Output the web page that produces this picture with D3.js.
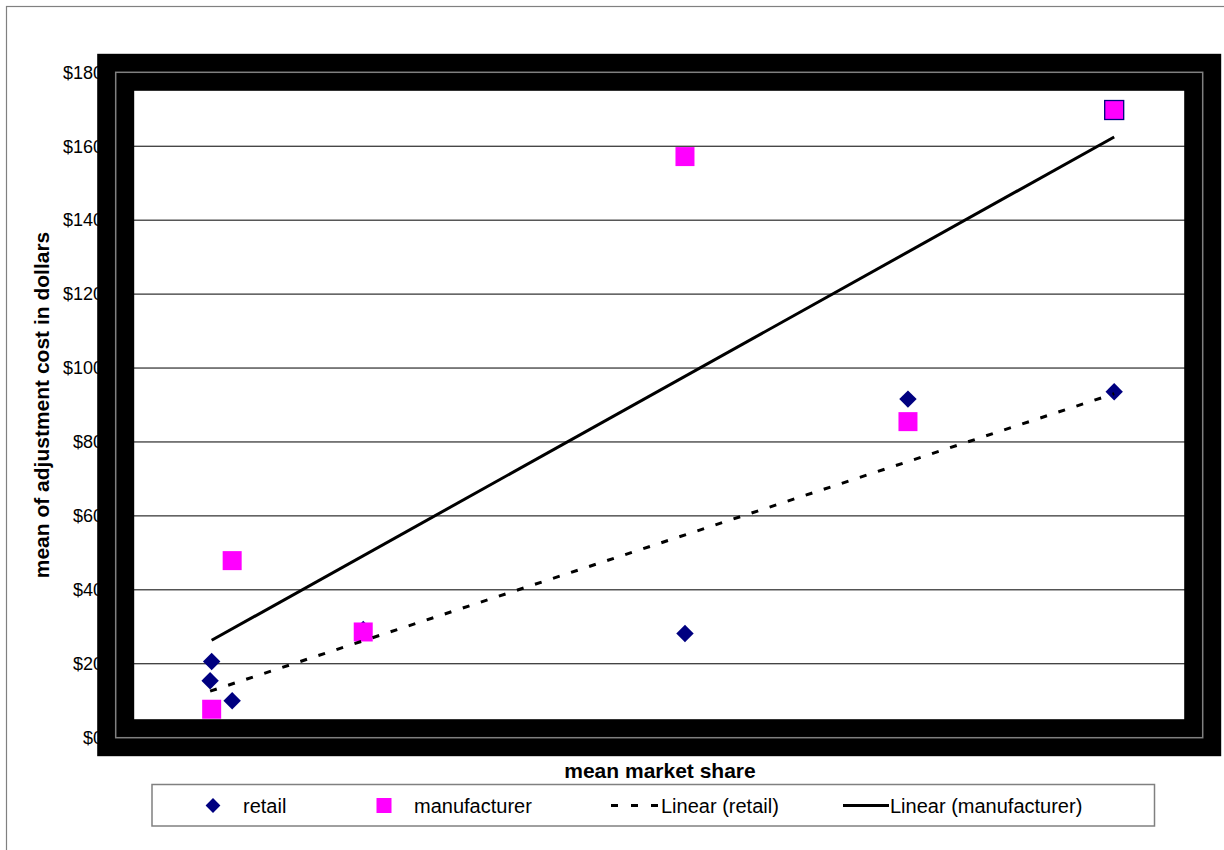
<!DOCTYPE html>
<html>
<head>
<meta charset="utf-8">
<script src="https://cdn.jsdelivr.net/npm/d3@7"></script>
<style>
  html, body { margin: 0; padding: 0; background: #fff; }
  svg { display: block; }
  text { font-family: Arial, "Liberation Sans", sans-serif; }
</style>
</head>
<body>
<svg id="chart" width="1224" height="850"></svg>
<script>
// ---- data ----
const retailX = [3.04, 3.09, 3.75, 7.97, 18.33, 25.51, 32.15];
const retailY = [15.4, 20.6, 10.0, 29.3, 28.2, 91.6, 93.6];
const manufX  = [3.09, 3.75, 7.97, 18.33, 25.51, 32.15];
const manufY  = [7.7, 47.9, 28.6, 157.2, 85.5, 169.8];
const yTicks  = [0, 20, 40, 60, 80, 100, 120, 140, 160, 180];
const legendLabels = ["retail", "manufacturer", "Linear (retail)", "Linear (manufacturer)"];
const xTitle = "mean market share";
const yTitle = "mean of adjustment cost in dollars";

// ---- layout ----
const svg = d3.select("#chart");
const L = 115.7, R = 1202.7, T = 72.3, B = 737.7;
const x = d3.scaleLinear().domain([0, 35]).range([L, R]);
const y = d3.scaleLinear().domain([0, 180]).range([B, T]);

const diamond = h => `M0,${-h}L${h},0L0,${h}L${-h},0Z`;

// outer chart frame
svg.append("rect").attr("x", 6.5).attr("y", 6.5).attr("width", 1240).attr("height", 870)
  .attr("fill", "#fff").attr("stroke", "#808080").attr("stroke-width", 1.2);

// y tick labels (partially covered by frame)
svg.append("g").selectAll("text").data(yTicks).join("text")
  .attr("x", 103).attr("y", d => y(d)).attr("dy", "0.35em")
  .attr("text-anchor", "end").attr("font-size", 18).attr("fill", "#000")
  .text(d => "$" + d);

// gridlines
svg.append("g").selectAll("line").data(yTicks.filter(d => d > 0)).join("line")
  .attr("x1", L).attr("x2", R).attr("y1", d => y(d)).attr("y2", d => y(d))
  .attr("stroke", "#000").attr("stroke-width", 1);

// thick black plot frame with thin gray centre line
svg.append("rect").attr("x", L).attr("y", T).attr("width", R - L).attr("height", B - T)
  .attr("fill", "none").attr("stroke", "#000").attr("stroke-width", 37);
svg.append("rect").attr("x", L).attr("y", T).attr("width", R - L).attr("height", B - T)
  .attr("fill", "none").attr("stroke", "#808080").attr("stroke-width", 1.5);

// regression helper
function linreg(xs, ys) {
  const mx = d3.mean(xs), my = d3.mean(ys);
  let sxy = 0, sxx = 0;
  xs.forEach((v, i) => { sxy += (v - mx) * (ys[i] - my); sxx += (v - mx) ** 2; });
  const b = sxy / sxx, a = my - b * mx;
  const [x0, x1] = d3.extent(xs);
  return [[x0, a + b * x0], [x1, a + b * x1]];
}
const line = d3.line().x(d => x(d[0])).y(d => y(d[1]));

// points: retail first (diamonds), then manufacturer (squares)
const retail = retailX.map((v, i) => [v, retailY[i]]);
const manuf = manufX.map((v, i) => [v, manufY[i]]);

svg.append("g").selectAll("path").data(retail).join("path")
  .attr("d", diamond(8.7))
  .attr("transform", d => `translate(${x(d[0])},${y(d[1])})`)
  .attr("fill", "#000080");

svg.append("g").selectAll("rect").data(manuf).join("rect")
  .attr("x", d => x(d[0]) - 9.5).attr("y", d => y(d[1]) - 9.5)
  .attr("width", 19).attr("height", 19)
  .attr("fill", "#ff00ff")
  .attr("stroke", (d, i) => i === manuf.length - 1 ? "#000080" : "none")
  .attr("stroke-width", 1.3);

// trend lines
svg.append("path").attr("d", line(linreg(retailX, retailY)))
  .attr("fill", "none").attr("stroke", "#000").attr("stroke-width", 3)
  .attr("stroke-dasharray", "7,12");
svg.append("path").attr("d", line(linreg(manufX, manufY)))
  .attr("fill", "none").attr("stroke", "#000").attr("stroke-width", 3);

// axis titles
svg.append("text").attr("x", 660).attr("y", 778).attr("text-anchor", "middle")
  .attr("font-size", 21).attr("font-weight", "bold").text(xTitle);
svg.append("text").attr("transform", "translate(49,405) rotate(-90)")
  .attr("text-anchor", "middle").attr("font-size", 21).attr("font-weight", "bold").text(yTitle);

// legend
const lg = svg.append("g");
lg.append("rect").attr("x", 152).attr("y", 784.5).attr("width", 1002.5).attr("height", 41.5)
  .attr("fill", "#fff").attr("stroke", "#808080").attr("stroke-width", 1.5);
const ly = 805.5;
lg.append("path").attr("d", diamond(7.4))
  .attr("transform", `translate(213,${ly})`).attr("fill", "#000080");
lg.append("rect").attr("x", 376.5).attr("y", ly - 7.5).attr("width", 15).attr("height", 15).attr("fill", "#ff00ff");
lg.append("line").attr("x1", 611).attr("x2", 658).attr("y1", ly).attr("y2", ly)
  .attr("stroke", "#000").attr("stroke-width", 3).attr("stroke-dasharray", "7,13");
lg.append("line").attr("x1", 843).attr("x2", 889).attr("y1", ly).attr("y2", ly)
  .attr("stroke", "#000").attr("stroke-width", 3);
const lx = [243, 414, 661, 890];
lg.selectAll("text.lab").data(legendLabels).join("text").attr("class", "lab")
  .attr("x", (d, i) => lx[i]).attr("y", 813).attr("font-size", 20).text(d => d);
</script>
</body>
</html>
